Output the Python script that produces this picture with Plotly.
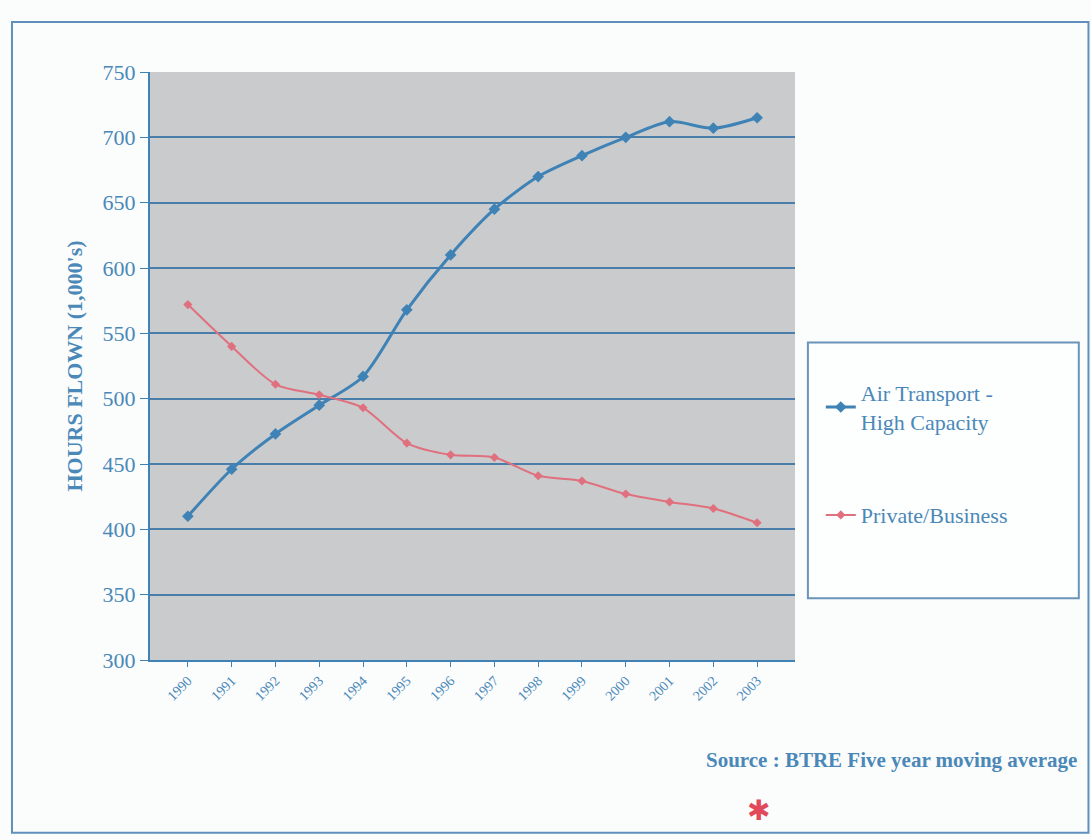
import plotly.graph_objects as go

years = ["1990", "1991", "1992", "1993", "1994", "1995", "1996", "1997",
         "1998", "1999", "2000", "2001", "2002", "2003"]
air_transport = [410, 446, 473, 495, 517, 568, 610, 645, 670, 686, 700, 712, 707, 715]
private_business = [572, 540, 511, 503, 493, 466, 457, 455, 441, 437, 427, 421, 416, 405]
y_ticks = [300, 350, 400, 450, 500, 550, 600, 650, 700, 750]

blue = "#3f82b6"
text_blue = "#4a88b8"
pink = "#e0707e"
serif = "Liberation Serif, Times New Roman, serif"

fig = go.Figure()
fig.add_trace(go.Scatter(
    x=years, y=air_transport, mode="lines+markers",
    name="Air Transport -<br>High Capacity",
    line=dict(color=blue, width=3, shape="spline", smoothing=0.8),
    marker=dict(symbol="diamond", size=9, color=blue),
    legendgroup="a",
))
fig.add_trace(go.Scatter(
    x=years, y=private_business, mode="lines+markers",
    name="Private/Business",
    line=dict(color=pink, width=2, shape="spline", smoothing=0.8),
    marker=dict(symbol="diamond", size=7, color=pink),
    legendgroup="b",
))

fig.update_layout(
    width=1091, height=840,
    margin=dict(l=150, r=296, t=72, b=180),
    paper_bgcolor="#fbfcfc",
    plot_bgcolor="#c9cbcd",
    font=dict(family=serif, color=text_blue),
    showlegend=True,
    legend=dict(
        x=1.04, y=0.49, xanchor="left", yanchor="top",
        bgcolor="rgba(0,0,0,0)", borderwidth=0,
        font=dict(family=serif, size=22, color=text_blue),
        tracegroupgap=62, traceorder="grouped",
    ),
    xaxis=dict(
        type="category", tickangle=-45,
        tickfont=dict(family=serif, size=14, color=text_blue),
        showgrid=False, showline=True, linecolor=blue, linewidth=2,
        ticks="outside", tickcolor=blue, ticklen=5,
    ),
    yaxis=dict(
        range=[300, 750], tickvals=y_ticks,
        tickfont=dict(family=serif, size=22, color=text_blue),
        showgrid=True, gridcolor="#4a7eaa", gridwidth=2,
        showline=True, linecolor=blue, linewidth=2,
        ticks="outside", tickcolor=blue, ticklen=8,
        title=dict(text="<b>HOURS FLOWN (1,000's)</b>",
                   font=dict(family=serif, size=22, color=text_blue), standoff=14),
        zeroline=False,
    ),
    shapes=[
        dict(type="rect", xref="paper", yref="paper",
             x0=1.02, x1=1.44, y0=0.105, y1=0.54,
             line=dict(color="#6a94b8", width=2), fillcolor="rgba(255,255,255,0.6)",
             layer="below"),
        dict(type="rect", xref="paper", yref="paper",
             x0=-0.214, x1=1.455, y0=-0.294, y1=1.085,
             line=dict(color="#5e90bb", width=2), fillcolor="rgba(0,0,0,0)"),
    ],
    annotations=[
        dict(text="<b>Source : BTRE Five year moving average</b>",
             xref="paper", yref="paper", x=1.44, y=-0.17,
             xanchor="right", yanchor="middle", showarrow=False,
             font=dict(family=serif, size=21, color=text_blue)),
        dict(text="✱", xref="paper", yref="paper", x=0.965, y=-0.285,
             yanchor="bottom", showarrow=False,
             font=dict(size=28, color="#e04a5a")),
    ],
)

fig.write_html("out.html", config={"displayModeBar": False},
               post_script="document.body.style.margin='0';")
